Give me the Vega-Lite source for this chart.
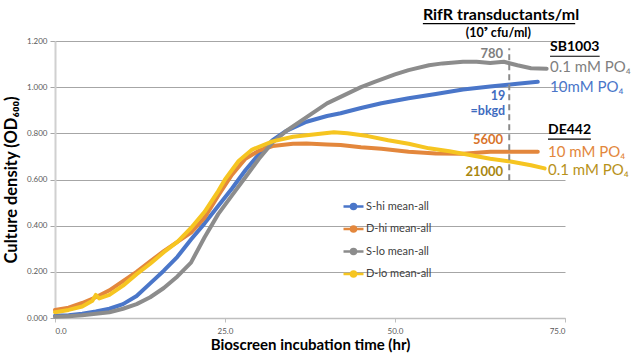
{
  "$schema": "https://vega.github.io/schema/vega-lite/v6.json",
  "width": 510,
  "height": 277,
  "autosize": {"type": "none"},
  "padding": {"left": 55, "top": 41, "right": 75, "bottom": 38},
  "config": {
    "font": "Lato",
    "view": {"stroke": null},
    "axis": {"labelFont": "Lato", "titleFont": "Lato"}
  },
  "datasets": {
    "curves": [
      {"series": "S-hi mean-all", "t": 0, "od": 0.010}, {"series": "S-hi mean-all", "t": 2, "od": 0.012}, {"series": "S-hi mean-all", "t": 4, "od": 0.018}, {"series": "S-hi mean-all", "t": 6, "od": 0.028}, {"series": "S-hi mean-all", "t": 8, "od": 0.040}, {"series": "S-hi mean-all", "t": 10, "od": 0.060}, {"series": "S-hi mean-all", "t": 12, "od": 0.095}, {"series": "S-hi mean-all", "t": 14, "od": 0.150}, {"series": "S-hi mean-all", "t": 16, "od": 0.205}, {"series": "S-hi mean-all", "t": 18, "od": 0.265}, {"series": "S-hi mean-all", "t": 20, "od": 0.340}, {"series": "S-hi mean-all", "t": 22, "od": 0.410}, {"series": "S-hi mean-all", "t": 24, "od": 0.485}, {"series": "S-hi mean-all", "t": 26, "od": 0.560}, {"series": "S-hi mean-all", "t": 28, "od": 0.640}, {"series": "S-hi mean-all", "t": 30, "od": 0.710}, {"series": "S-hi mean-all", "t": 32, "od": 0.770}, {"series": "S-hi mean-all", "t": 34, "od": 0.810}, {"series": "S-hi mean-all", "t": 37, "od": 0.850}, {"series": "S-hi mean-all", "t": 40, "od": 0.875}, {"series": "S-hi mean-all", "t": 42, "od": 0.887}, {"series": "S-hi mean-all", "t": 45, "od": 0.910}, {"series": "S-hi mean-all", "t": 48, "od": 0.930}, {"series": "S-hi mean-all", "t": 52, "od": 0.952}, {"series": "S-hi mean-all", "t": 56, "od": 0.970}, {"series": "S-hi mean-all", "t": 60, "od": 0.990}, {"series": "S-hi mean-all", "t": 64, "od": 1.003}, {"series": "S-hi mean-all", "t": 68, "od": 1.015}, {"series": "S-hi mean-all", "t": 71, "od": 1.023},
      {"series": "D-hi mean-all", "t": 0, "od": 0.035}, {"series": "D-hi mean-all", "t": 2, "od": 0.045}, {"series": "D-hi mean-all", "t": 4, "od": 0.065}, {"series": "D-hi mean-all", "t": 6, "od": 0.090}, {"series": "D-hi mean-all", "t": 8, "od": 0.120}, {"series": "D-hi mean-all", "t": 10, "od": 0.160}, {"series": "D-hi mean-all", "t": 12, "od": 0.200}, {"series": "D-hi mean-all", "t": 14, "od": 0.245}, {"series": "D-hi mean-all", "t": 16, "od": 0.290}, {"series": "D-hi mean-all", "t": 18, "od": 0.330}, {"series": "D-hi mean-all", "t": 20, "od": 0.370}, {"series": "D-hi mean-all", "t": 22, "od": 0.435}, {"series": "D-hi mean-all", "t": 24, "od": 0.530}, {"series": "D-hi mean-all", "t": 26, "od": 0.620}, {"series": "D-hi mean-all", "t": 28, "od": 0.690}, {"series": "D-hi mean-all", "t": 30, "od": 0.725}, {"series": "D-hi mean-all", "t": 32, "od": 0.745}, {"series": "D-hi mean-all", "t": 35, "od": 0.755}, {"series": "D-hi mean-all", "t": 37, "od": 0.756}, {"series": "D-hi mean-all", "t": 40, "od": 0.752}, {"series": "D-hi mean-all", "t": 42, "od": 0.749}, {"series": "D-hi mean-all", "t": 45, "od": 0.740}, {"series": "D-hi mean-all", "t": 48, "od": 0.733}, {"series": "D-hi mean-all", "t": 52, "od": 0.720}, {"series": "D-hi mean-all", "t": 56, "od": 0.713}, {"series": "D-hi mean-all", "t": 60, "od": 0.712}, {"series": "D-hi mean-all", "t": 64, "od": 0.720}, {"series": "D-hi mean-all", "t": 68, "od": 0.720}, {"series": "D-hi mean-all", "t": 71, "od": 0.720},
      {"series": "S-lo mean-all", "t": 0, "od": 0.005}, {"series": "S-lo mean-all", "t": 2, "od": 0.008}, {"series": "S-lo mean-all", "t": 4, "od": 0.012}, {"series": "S-lo mean-all", "t": 6, "od": 0.018}, {"series": "S-lo mean-all", "t": 8, "od": 0.025}, {"series": "S-lo mean-all", "t": 10, "od": 0.040}, {"series": "S-lo mean-all", "t": 12, "od": 0.060}, {"series": "S-lo mean-all", "t": 14, "od": 0.090}, {"series": "S-lo mean-all", "t": 16, "od": 0.130}, {"series": "S-lo mean-all", "t": 18, "od": 0.180}, {"series": "S-lo mean-all", "t": 20, "od": 0.240}, {"series": "S-lo mean-all", "t": 22, "od": 0.350}, {"series": "S-lo mean-all", "t": 24, "od": 0.450}, {"series": "S-lo mean-all", "t": 26, "od": 0.530}, {"series": "S-lo mean-all", "t": 28, "od": 0.610}, {"series": "S-lo mean-all", "t": 30, "od": 0.690}, {"series": "S-lo mean-all", "t": 32, "od": 0.760}, {"series": "S-lo mean-all", "t": 34, "od": 0.810}, {"series": "S-lo mean-all", "t": 37, "od": 0.870}, {"series": "S-lo mean-all", "t": 40, "od": 0.930}, {"series": "S-lo mean-all", "t": 42, "od": 0.958}, {"series": "S-lo mean-all", "t": 45, "od": 1.000}, {"series": "S-lo mean-all", "t": 47, "od": 1.023}, {"series": "S-lo mean-all", "t": 50, "od": 1.055}, {"series": "S-lo mean-all", "t": 52, "od": 1.074}, {"series": "S-lo mean-all", "t": 55, "od": 1.095}, {"series": "S-lo mean-all", "t": 57, "od": 1.103}, {"series": "S-lo mean-all", "t": 60, "od": 1.110}, {"series": "S-lo mean-all", "t": 62, "od": 1.110}, {"series": "S-lo mean-all", "t": 64, "od": 1.105}, {"series": "S-lo mean-all", "t": 66, "od": 1.110}, {"series": "S-lo mean-all", "t": 68, "od": 1.095}, {"series": "S-lo mean-all", "t": 70, "od": 1.082}, {"series": "S-lo mean-all", "t": 72.3, "od": 1.080},
      {"series": "D-lo mean-all", "t": 0, "od": 0.025}, {"series": "D-lo mean-all", "t": 2, "od": 0.035}, {"series": "D-lo mean-all", "t": 4, "od": 0.050}, {"series": "D-lo mean-all", "t": 5.5, "od": 0.075}, {"series": "D-lo mean-all", "t": 6, "od": 0.100}, {"series": "D-lo mean-all", "t": 6.5, "od": 0.085}, {"series": "D-lo mean-all", "t": 8, "od": 0.100}, {"series": "D-lo mean-all", "t": 10, "od": 0.140}, {"series": "D-lo mean-all", "t": 12, "od": 0.190}, {"series": "D-lo mean-all", "t": 14, "od": 0.235}, {"series": "D-lo mean-all", "t": 16, "od": 0.285}, {"series": "D-lo mean-all", "t": 18, "od": 0.330}, {"series": "D-lo mean-all", "t": 20, "od": 0.390}, {"series": "D-lo mean-all", "t": 22, "od": 0.460}, {"series": "D-lo mean-all", "t": 24, "od": 0.550}, {"series": "D-lo mean-all", "t": 25, "od": 0.600}, {"series": "D-lo mean-all", "t": 27, "od": 0.680}, {"series": "D-lo mean-all", "t": 29, "od": 0.730}, {"series": "D-lo mean-all", "t": 32, "od": 0.765}, {"series": "D-lo mean-all", "t": 35, "od": 0.785}, {"series": "D-lo mean-all", "t": 38, "od": 0.795}, {"series": "D-lo mean-all", "t": 41, "od": 0.805}, {"series": "D-lo mean-all", "t": 43, "od": 0.800}, {"series": "D-lo mean-all", "t": 46, "od": 0.788}, {"series": "D-lo mean-all", "t": 49, "od": 0.770}, {"series": "D-lo mean-all", "t": 52, "od": 0.755}, {"series": "D-lo mean-all", "t": 55, "od": 0.735}, {"series": "D-lo mean-all", "t": 58, "od": 0.722}, {"series": "D-lo mean-all", "t": 61, "od": 0.706}, {"series": "D-lo mean-all", "t": 64, "od": 0.690}, {"series": "D-lo mean-all", "t": 67, "od": 0.678}, {"series": "D-lo mean-all", "t": 70, "od": 0.662}, {"series": "D-lo mean-all", "t": 72, "od": 0.648}
    ]
  },
  "layer": [
    {
      "data": {"name": "curves"},
      "mark": {"type": "line", "strokeWidth": 4, "strokeCap": "round", "strokeJoin": "round"},
      "encoding": {
        "x": {
          "field": "t", "type": "quantitative",
          "scale": {"domain": [0, 75], "nice": false, "zero": false},
          "axis": {
            "values": [0, 25, 50, 75], "format": ".1f", "grid": false,
            "domainColor": "#bfbfbf", "domainWidth": 1.5, "tickColor": "#bfbfbf", "tickSize": 4,
            "labelFontSize": 8, "labelColor": "#595959", "labelPadding": 5,
            "title": "Bioscreen incubation time (hr)", "titleFontSize": 15, "titleFontWeight": "bold",
            "titleColor": "#000000", "titlePadding": 2
          }
        },
        "y": {
          "field": "od", "type": "quantitative",
          "scale": {"domain": [0, 1.2], "nice": false},
          "axis": {
            "values": [0, 0.2, 0.4, 0.6, 0.8, 1.0, 1.2], "format": ".3f",
            "grid": true, "gridColor": "#a6a6a6", "gridWidth": 1,
            "domainColor": "#d0d0d0", "domainWidth": 2, "tickColor": "#a6a6a6", "tickSize": 5,
            "labelFontSize": 8, "labelColor": "#595959", "labelPadding": 3,
            "title": "Culture density (OD₆₀₀)", "titleFontSize": 16.5, "titleFontWeight": "bold",
            "titleColor": "#000000", "titlePadding": 7
          }
        },
        "color": {
          "field": "series", "type": "nominal",
          "scale": {
            "domain": ["S-hi mean-all", "D-hi mean-all", "S-lo mean-all", "D-lo mean-all"],
            "range": ["#4a76c9", "#e3873c", "#8c8c8c", "#f6c521"]
          },
          "legend": {
            "orient": "none", "legendX": 287, "legendY": 154, "title": null,
            "symbolType": "M-1,0H1M-0.25,0A0.25,0.25 0 1 1 0.25,0A0.25,0.25 0 1 1 -0.25,0Z",
            "symbolSize": 400, "symbolStrokeWidth": 2.5,
            "labelFontSize": 11, "labelColor": "#404040", "labelOffset": 1, "rowPadding": 3.5, "padding": 0
          }
        },
        "order": {"field": "t", "type": "quantitative"}
      }
    },
    {
      "data": {"values": [{"t": 66.8, "y1": 0.597, "y2": 1.169}]},
      "mark": {"type": "rule", "color": "#8a8a8a", "strokeWidth": 2, "strokeDash": [6, 4]},
      "encoding": {
        "x": {"field": "t", "type": "quantitative"},
        "y": {"field": "y1", "type": "quantitative"},
        "y2": {"field": "y2"}
      }
    },
    {
      "data": {"values": [
        {"x1": 54.1, "x2": 76.5, "y": 1.275},
        {"x1": 72.8, "x2": 80.1, "y": 1.134},
        {"x1": 72.5, "x2": 78.8, "y": 0.775}
      ]},
      "mark": {"type": "rule", "color": "#000000", "strokeWidth": 1.2},
      "encoding": {
        "x": {"field": "x1", "type": "quantitative"},
        "x2": {"field": "x2"},
        "y": {"field": "y", "type": "quantitative"}
      }
    },
    {
      "data": {"values": [{"label": "RifR transductants/ml", "x": 54.1, "y": 1.312}]},
      "mark": {"type": "text", "align": "left", "baseline": "middle", "fontSize": 16, "fontWeight": "bold", "color": "#000000"},
      "encoding": {"x": {"field": "x", "type": "quantitative"}, "y": {"field": "y", "type": "quantitative"}, "text": {"field": "label"}}
    },
    {
      "data": {"values": [
        {"label": "SB1003", "x": 72.8, "y": 1.173},
        {"label": "DE442", "x": 72.5, "y": 0.814}
      ]},
      "mark": {"type": "text", "align": "left", "baseline": "middle", "fontSize": 14, "fontWeight": "bold", "color": "#000000"},
      "encoding": {"x": {"field": "x", "type": "quantitative"}, "y": {"field": "y", "type": "quantitative"}, "text": {"field": "label"}}
    },
    {
      "data": {"values": [{"label": "(10⁹ cfu/ml)", "x": 60.4, "y": 1.236}]},
      "mark": {"type": "text", "align": "left", "baseline": "middle", "fontSize": 12.5, "fontWeight": "bold", "color": "#000000"},
      "encoding": {"x": {"field": "x", "type": "quantitative"}, "y": {"field": "y", "type": "quantitative"}, "text": {"field": "label"}}
    },
    {
      "data": {"values": [{"label": "780", "x": 65.9, "y": 1.143}]},
      "mark": {"type": "text", "align": "right", "baseline": "middle", "fontSize": 13, "fontWeight": "bold", "color": "#7f7f7f"},
      "encoding": {"x": {"field": "x", "type": "quantitative"}, "y": {"field": "y", "type": "quantitative"}, "text": {"field": "label"}}
    },
    {
      "data": {"values": [{"label": "0.1 mM PO₄", "x": 72.8, "y": 1.088}]},
      "mark": {"type": "text", "align": "left", "baseline": "middle", "fontSize": 15, "color": "#7f7f7f"},
      "encoding": {"x": {"field": "x", "type": "quantitative"}, "y": {"field": "y", "type": "quantitative"}, "text": {"field": "label"}}
    },
    {
      "data": {"values": [{"label": "19", "x": 66.2, "y": 0.963}, {"label": "=bkgd", "x": 66.2, "y": 0.898}]},
      "mark": {"type": "text", "align": "right", "baseline": "middle", "fontSize": 12.5, "fontWeight": "bold", "color": "#3f6cc0"},
      "encoding": {"x": {"field": "x", "type": "quantitative"}, "y": {"field": "y", "type": "quantitative"}, "text": {"field": "label"}}
    },
    {
      "data": {"values": [{"label": "10mM PO₄", "x": 72.8, "y": 1.001}]},
      "mark": {"type": "text", "align": "left", "baseline": "middle", "fontSize": 15, "color": "#4a76c9"},
      "encoding": {"x": {"field": "x", "type": "quantitative"}, "y": {"field": "y", "type": "quantitative"}, "text": {"field": "label"}}
    },
    {
      "data": {"values": [{"label": "5600", "x": 65.9, "y": 0.771}]},
      "mark": {"type": "text", "align": "right", "baseline": "middle", "fontSize": 13, "fontWeight": "bold", "color": "#d9742b"},
      "encoding": {"x": {"field": "x", "type": "quantitative"}, "y": {"field": "y", "type": "quantitative"}, "text": {"field": "label"}}
    },
    {
      "data": {"values": [{"label": "10 mM PO₄", "x": 72.5, "y": 0.720}]},
      "mark": {"type": "text", "align": "left", "baseline": "middle", "fontSize": 15, "color": "#e3873c"},
      "encoding": {"x": {"field": "x", "type": "quantitative"}, "y": {"field": "y", "type": "quantitative"}, "text": {"field": "label"}}
    },
    {
      "data": {"values": [{"label": "21000", "x": 65.9, "y": 0.633}]},
      "mark": {"type": "text", "align": "right", "baseline": "middle", "fontSize": 13, "fontWeight": "bold", "color": "#a8860f"},
      "encoding": {"x": {"field": "x", "type": "quantitative"}, "y": {"field": "y", "type": "quantitative"}, "text": {"field": "label"}}
    },
    {
      "data": {"values": [{"label": "0.1 mM PO₄", "x": 72.5, "y": 0.641}]},
      "mark": {"type": "text", "align": "left", "baseline": "middle", "fontSize": 15, "color": "#b8921a"},
      "encoding": {"x": {"field": "x", "type": "quantitative"}, "y": {"field": "y", "type": "quantitative"}, "text": {"field": "label"}}
    }
  ]
}
